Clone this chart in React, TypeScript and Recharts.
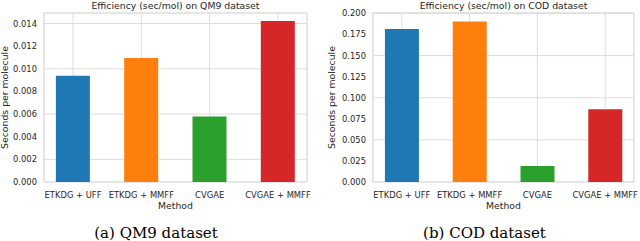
import { BarChart, Bar, Cell, XAxis, YAxis, CartesianGrid, ReferenceArea } from 'recharts';

const methods = ['ETKDG + UFF', 'ETKDG + MMFF', 'CVGAE', 'CVGAE + MMFF'];
const qm9Times = [0.00938, 0.01095, 0.00578, 0.01422];
const codTimes = [0.1814, 0.1905, 0.019, 0.0862];
const barColors = ['#1f77b4', '#ff7f0e', '#2ca02c', '#d62728'];
const qm9Ticks = [0, 0.002, 0.004, 0.006, 0.008, 0.01, 0.012, 0.014];
const codTicks = [0, 0.025, 0.05, 0.075, 0.1, 0.125, 0.15, 0.175, 0.2];

const W = 320;
const H = 241;
const TEXT = '#262626';
const GRID = '#dddddd';
const SANS = '"DejaVu Sans", sans-serif';
const X_MIN = -0.425;
const X_MAX = 3.425;

interface PanelProps {
  left: number;
  axisWidth: number;
  rightMargin: number;
  values: number[];
  ticks: number[];
  yMax: number;
}

function Panel({ left, axisWidth, rightMargin, values, ticks, yMax }: PanelProps) {
  const data = methods.map((m, i) => ({ idx: i, name: m, value: values[i] }));
  return (
    <div style={{ position: 'absolute', left, top: 0 }}>
      <BarChart
        width={W}
        height={H}
        data={data}
        margin={{ top: 13, right: rightMargin, bottom: 39, left: 0 }}
      >
        <CartesianGrid stroke={GRID} strokeWidth={1} />
        <XAxis
          dataKey="idx"
          type="number"
          domain={[X_MIN, X_MAX]}
          ticks={[0, 1, 2, 3]}
          interval={0}
          tickFormatter={(v) => methods[v]}
          tickLine={false}
          axisLine={false}
          tickMargin={4}
          height={20}
          tick={{ fill: TEXT, fontSize: 8.4, fontFamily: SANS }}
        />
        <YAxis
          type="number"
          domain={[0, yMax]}
          ticks={ticks}
          tickFormatter={(v) => v.toFixed(3)}
          tickLine={false}
          axisLine={false}
          tickMargin={1}
          width={axisWidth}
          tick={{ fill: TEXT, fontSize: 8.4, fontFamily: SANS }}
        />
        <Bar dataKey="value" barSize={34} isAnimationActive={false}>
          {data.map((d, i) => (
            <Cell key={d.name} fill={barColors[i]} />
          ))}
        </Bar>
        <ReferenceArea
          x1={X_MIN}
          x2={X_MAX}
          y1={0}
          y2={yMax}
          fill="none"
          stroke={GRID}
          strokeWidth={1}
        />
      </BarChart>
    </div>
  );
}

export default function App() {
  return (
    <div
      style={{
        position: 'absolute',
        left: 0,
        top: 0,
        width: 640,
        height: 241,
        background: '#fff',
        overflow: 'hidden',
      }}
    >
      <Panel left={0} axisWidth={44} rightMargin={13} values={qm9Times} ticks={qm9Ticks} yMax={0.01493} />
      <Panel left={320} axisWidth={53} rightMargin={6} values={codTimes} ticks={codTicks} yMax={0.2005} />
      <svg
        width={640}
        height={241}
        style={{ position: 'absolute', left: 0, top: 0, pointerEvents: 'none' }}
      >
        <g fill={TEXT} fontFamily={SANS} fontSize={9.3} textAnchor="middle" dominantBaseline="central">
          <text x={175.5} y={5.5}>Efficiency (sec/mol) on QM9 dataset</text>
          <text x={503.5} y={5.5}>Efficiency (sec/mol) on COD dataset</text>
          <text x={175.5} y={205.5}>Method</text>
          <text x={503.5} y={205.5}>Method</text>
          <text x={4.5} y={97.5} transform="rotate(-90, 4.5, 97.5)">Seconds per molecule</text>
          <text x={331.5} y={97.5} transform="rotate(-90, 331.5, 97.5)">Seconds per molecule</text>
        </g>
        <g fill="#000" fontFamily={'"DejaVu Serif", serif'} fontSize={15} textAnchor="middle" dominantBaseline="central">
          <text x={156} y={232.5}>(a) QM9 dataset</text>
          <text x={484.5} y={232.5}>(b) COD dataset</text>
        </g>
      </svg>
    </div>
  );
}
